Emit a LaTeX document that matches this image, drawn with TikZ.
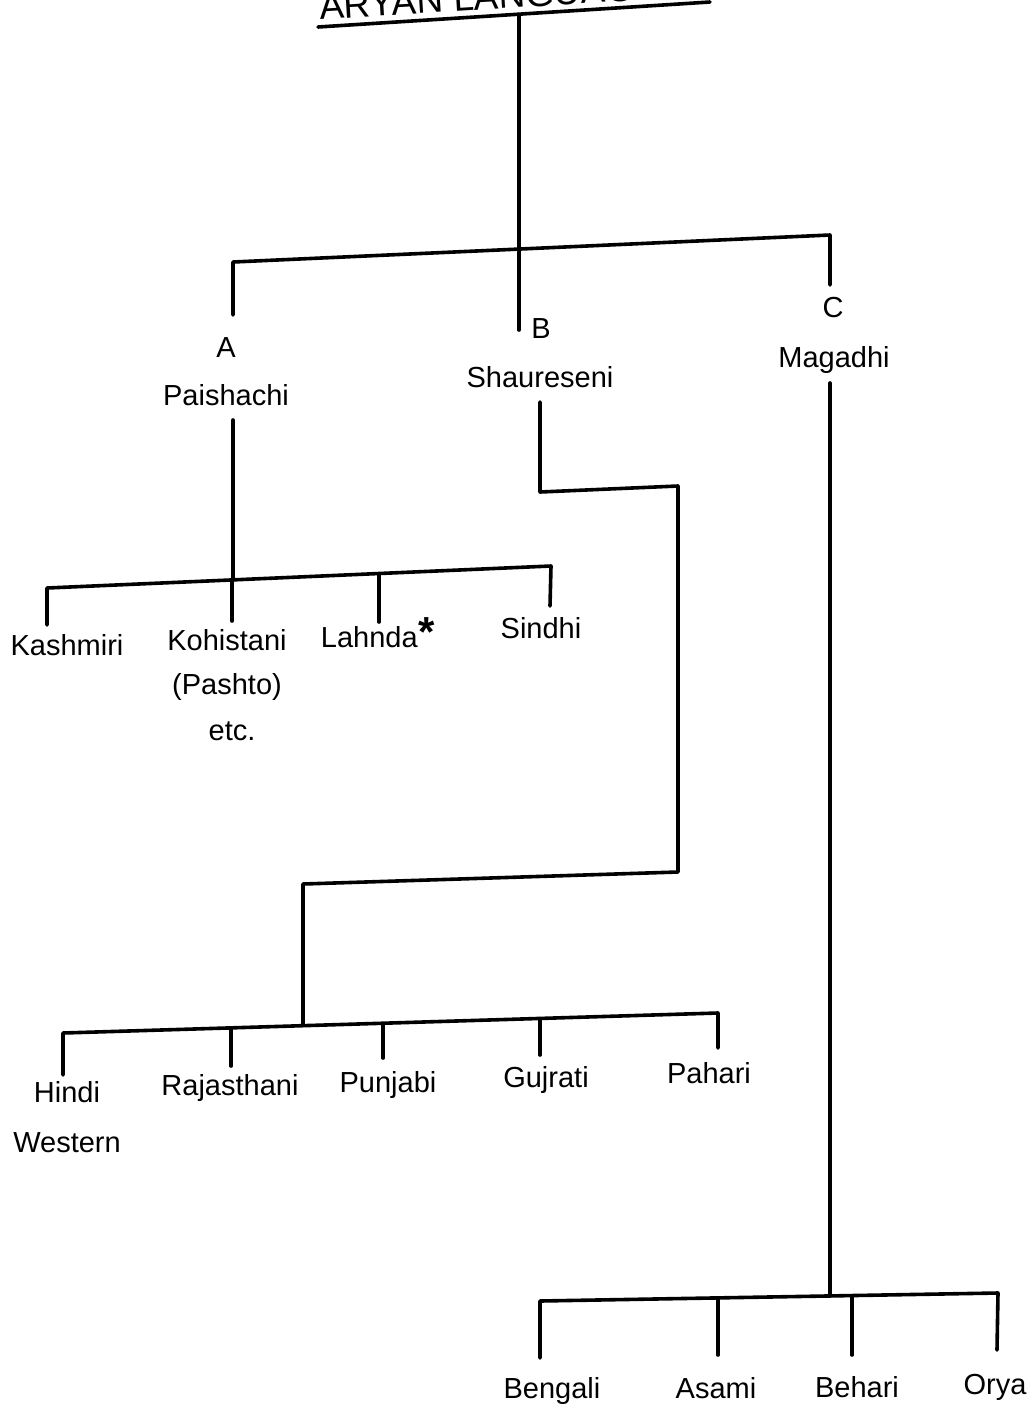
\documentclass[tikz,border=0pt]{standalone}
\usepackage{fontspec}
\setmainfont{Liberation Sans}
\begin{document}
\begin{tikzpicture}[x=1pt,y=-1pt,
  branch/.style={line width=3.6pt, line cap=round, line join=round},
  lang/.style={font=\fontsize{29}{34}\selectfont, inner sep=0pt, anchor=base},
  headline/.style={font=\fontsize{37}{40}\selectfont, inner sep=0pt, anchor=base west, rotate=3.6},
  ]
\useasboundingbox (0,0) rectangle (1032,1409);
\clip (0,0) rectangle (1032,1409);
\fill[white] (0,0) rectangle (1032,1409);

% ---------- root ----------
\node[headline] (title) at (320,20) {ARYAN LANGUAGES};
\coordinate (ulL) at (318,27);
\coordinate (ulR) at (710,2);
\coordinate (root) at (519,14.6);
\draw[branch] (ulL) -- (ulR);

% ---------- first split ----------
\coordinate (barL) at (233,262);
\coordinate (barM) at (519,249);
\coordinate (barR) at (830,235);
\coordinate (dropA) at (233,315);
\coordinate (dropB) at (519,330);
\coordinate (dropC) at (830,285);
\draw[branch] (root) -- (dropB);
\draw[branch] (dropA) -- (barL) -- (barR) -- (dropC);

\node[lang] (A) at (226,357) {A};
\node[lang] (paishachi) at (226,405) {Paishachi};
\node[lang] (B) at (541,338) {B};
\node[lang] (shaureseni) at (540,387) {Shaureseni};
\node[lang] (C) at (833,317) {C};
\node[lang] (magadhi) at (834,367) {Magadhi};

% ---------- Paishachi group ----------
\coordinate (pTop) at (233,420);
\coordinate (pBarL) at (47,588);
\coordinate (pBarM) at (233,580);
\coordinate (pBarR) at (551,566);
\coordinate (pKoh) at (232,581);
\coordinate (pLah) at (379,575);
\coordinate (dKas) at (47,625);
\coordinate (dKoh) at (232,621);
\coordinate (dLah) at (379,622);
\coordinate (dSin) at (550,606);
\draw[branch] (pTop) -- (pBarM);
\draw[branch] (dKas) -- (pBarL) -- (pBarR) -- (dSin);
\draw[branch] (pKoh) -- (dKoh);
\draw[branch] (pLah) -- (dLah);

\node[lang] (kashmiri) at (67,655) {Kashmiri};
\node[lang] (kohistani) at (227,650) {Kohistani};
\node[lang] (pashto) at (227,694) {(Pashto)};
\node[lang] (etc) at (232,740) {etc.};
\node[lang] (lahnda) at (378,647) {Lahnda\hspace{1pt}\raisebox{1pt}{\fontsize{42}{42}\selectfont\bfseries *}};
\node[lang] (sindhi) at (541,638) {Sindhi};

% ---------- Shaureseni group ----------
\coordinate (sTop) at (540,402);
\coordinate (s1) at (540,492);
\coordinate (s2) at (678,486);
\coordinate (s3) at (678,872);
\coordinate (s4) at (303,884);
\coordinate (sBarL) at (63,1033);
\coordinate (sBarM) at (303,1024);
\coordinate (sBarR) at (718,1013);
\coordinate (jRaj) at (231,1029);
\coordinate (jPun) at (383,1025);
\coordinate (jGuj) at (540,1020);
\coordinate (dHin) at (63,1075);
\coordinate (dRaj) at (231,1066);
\coordinate (dPun) at (383,1058);
\coordinate (dGuj) at (540,1055);
\coordinate (dPah) at (718,1048);
\draw[branch] (sTop) -- (s1) -- (s2) -- (s3) -- (s4) -- (sBarM);
\draw[branch] (dHin) -- (sBarL) -- (sBarR) -- (dPah);
\draw[branch] (jRaj) -- (dRaj);
\draw[branch] (jPun) -- (dPun);
\draw[branch] (jGuj) -- (dGuj);

\node[lang] (hindi) at (67,1102) {Hindi};
\node[lang] (western) at (67,1152) {Western};
\node[lang] (rajasthani) at (230,1095) {Rajasthani};
\node[lang] (punjabi) at (388,1092) {Punjabi};
\node[lang] (gujrati) at (546,1087) {Gujrati};
\node[lang] (pahari) at (709,1083) {Pahari};

% ---------- Magadhi group ----------
\coordinate (mTop) at (830,383);
\coordinate (mBarL) at (540,1301);
\coordinate (mBarM) at (830,1296);
\coordinate (mBarR) at (998,1293);
\coordinate (jAsa) at (718,1298);
\coordinate (jBeh) at (852,1296);
\coordinate (dBen) at (540,1358);
\coordinate (dAsa) at (718,1355);
\coordinate (dBeh) at (852,1355);
\coordinate (dOry) at (997,1350);
\draw[branch] (mTop) -- (mBarM);
\draw[branch] (dBen) -- (mBarL) -- (mBarR) -- (dOry);
\draw[branch] (jAsa) -- (dAsa);
\draw[branch] (jBeh) -- (dBeh);

\node[lang] (bengali) at (552,1398) {Bengali};
\node[lang] (asami) at (716,1398) {Asami};
\node[lang] (behari) at (857,1397) {Behari};
\node[lang] (orya) at (995,1394) {Orya};
\end{tikzpicture}
\end{document}
